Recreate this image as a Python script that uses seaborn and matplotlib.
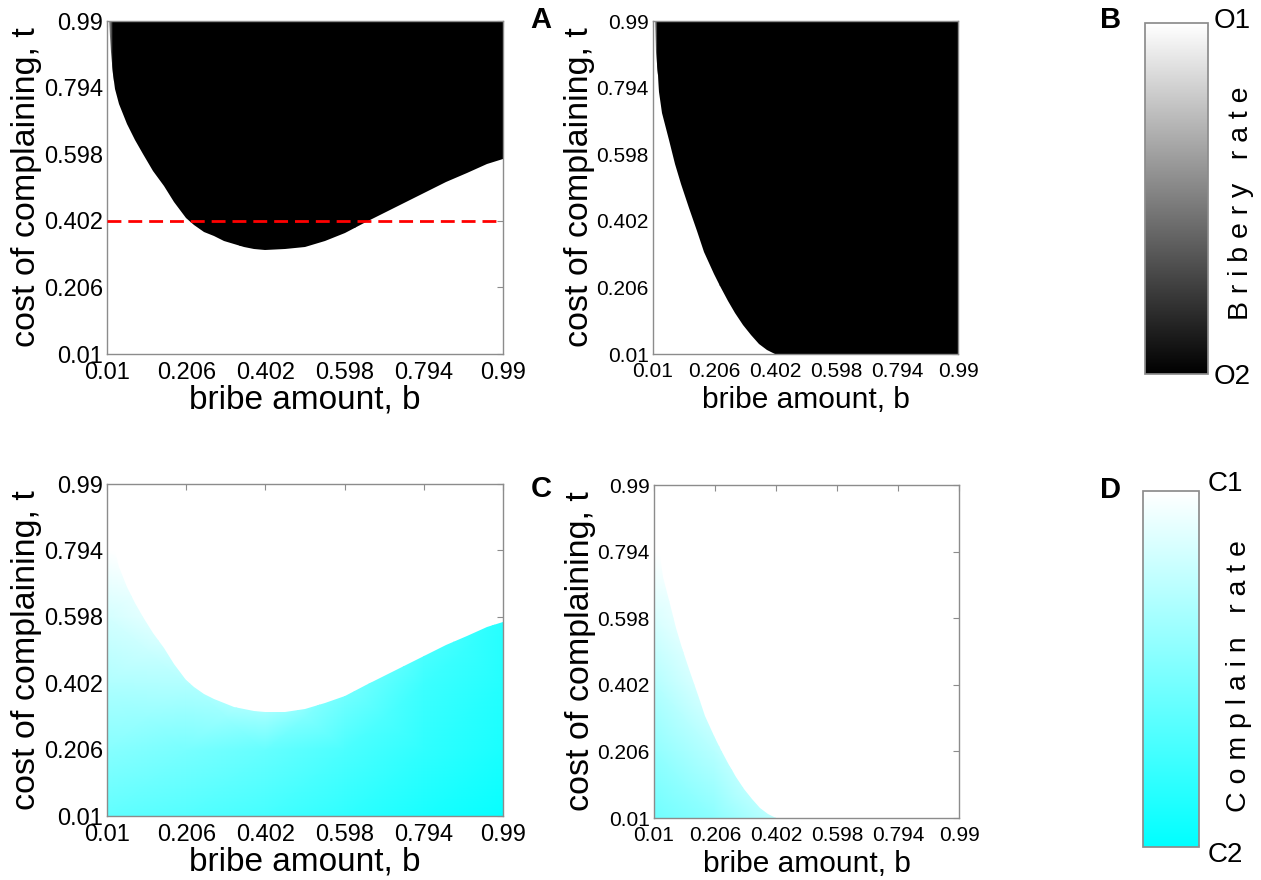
import numpy as np
import matplotlib
matplotlib.use("Agg")
import matplotlib.pyplot as plt
from matplotlib.patches import Polygon
from matplotlib.cm import ScalarMappable
from matplotlib.colors import Normalize
import seaborn as sns

# ---- data -------------------------------------------------------------
# bribe amount b at which the regime boundaries are traced
bribe = [0.01, 0.015, 0.02, 0.025, 0.03, 0.04, 0.06, 0.08, 0.10, 0.125, 0.15, 0.175,
         0.206, 0.225, 0.25, 0.275, 0.30, 0.325, 0.35, 0.375, 0.402, 0.45, 0.50,
         0.55, 0.598, 0.65, 0.70, 0.75, 0.794, 0.85, 0.90, 0.95, 0.99]
# cost of complaining t at the O1/O2 boundary (panels A and C)
boundary_ac = [1.10, 0.99, 0.90, 0.835, 0.79, 0.745, 0.686, 0.64, 0.598, 0.55, 0.505,
               0.458, 0.41, 0.39, 0.37, 0.356, 0.343, 0.333, 0.325, 0.319, 0.316,
               0.318, 0.326, 0.343, 0.365, 0.397, 0.427, 0.457, 0.483, 0.515, 0.542,
               0.568, 0.584]
# cost of complaining t at the O1/O2 boundary (panels B and D)
boundary_bd = [1.10, 1.00, 0.90, 0.83, 0.78, 0.72, 0.64, 0.57, 0.51, 0.44, 0.372,
               0.31, 0.245, 0.21, 0.165, 0.13, 0.095, 0.065, 0.04, 0.022, 0.01,
               0.01, 0.01, 0.01, 0.01, 0.01, 0.01, 0.01, 0.01, 0.01, 0.01, 0.01, 0.01]
threshold_t = 0.402

# bribery rate near the left edge, 1 = O1 (white), 0 = O2 (black)
bribery_grid_b = [0.01, 0.025, 0.99]
bribery_grid_t = [0.01, 0.99]
bribery_rate = [
    [1.0, 0.0, 0.0],
    [1.0, 0.0, 0.0],
]

# complain rate on a coarse (t, b) grid, 0 = C1 (white), 1 = C2 (cyan)
grid_b = [0.01, 0.206, 0.402, 0.598, 0.794, 0.99]
grid_t = [0.01, 0.206, 0.402, 0.598, 0.794, 0.99]
complain_c = [
    [0.62, 0.67, 0.73, 0.81, 0.90, 0.97],
    [0.47, 0.53, 0.60, 0.70, 0.81, 0.90],
    [0.31, 0.30, 0.16, 0.52, 0.76, 0.86],
    [0.17, 0.05, 0.00, 0.30, 0.65, 0.84],
    [0.00, 0.00, 0.00, 0.10, 0.50, 0.80],
    [0.00, 0.00, 0.00, 0.00, 0.40, 0.70],
]
complain_d = [
    [0.56, 0.45, 0.25, 0.00, 0.00, 0.00],
    [0.43, 0.28, 0.00, 0.00, 0.00, 0.00],
    [0.30, 0.10, 0.00, 0.00, 0.00, 0.00],
    [0.15, 0.00, 0.00, 0.00, 0.00, 0.00],
    [0.00, 0.00, 0.00, 0.00, 0.00, 0.00],
    [0.00, 0.00, 0.00, 0.00, 0.00, 0.00],
]

tick_values = [0.01, 0.206, 0.402, 0.598, 0.794, 0.99]
tick_labels = ["0.01", "0.206", "0.402", "0.598", "0.794", "0.99"]

# ---- style ------------------------------------------------------------
sns.set_theme(style="white")
plt.rcParams["font.family"] = ["Liberation Sans", "DejaVu Sans"]
plt.rcParams.update({"text.color": "black", "axes.labelcolor": "black",
                     "xtick.color": "black", "ytick.color": "black"})

gray_cmap = sns.blend_palette(["black", "white"], as_cmap=True)
cyan_cmap = sns.blend_palette(["white", "#00ffff"], as_cmap=True)
EDGE = "#8c8c8c"

W, H = 1261, 880
fig = plt.figure(figsize=(W / 100, H / 100), dpi=100)


def px_axes(x0, y0, x1, y1):
    return fig.add_axes([x0 / W, 1 - y1 / H, (x1 - x0) / W, (y1 - y0) / H])


def style_axes(ax, narrow):
    ax.set_xlim(0.01, 0.99)
    ax.set_ylim(0.01, 0.99)
    tick_size = 15 if narrow else 17
    ax.set_xticks(tick_values)
    ax.set_yticks(tick_values)
    ax.set_xticklabels(tick_labels, fontsize=tick_size)
    ax.set_yticklabels(tick_labels, fontsize=tick_size)
    ax.tick_params(direction="in", length=4, width=0.8, color=EDGE,
                   labelcolor="black", top=True, right=True)
    ax.tick_params(axis="x", pad=6)
    ax.tick_params(axis="y", pad=3)
    for s in ax.spines.values():
        s.set_visible(True)
        s.set_color(EDGE)
        s.set_linewidth(1.0)
    ax.set_xlabel("bribe amount, b", fontsize=21.5 if narrow else 24,
                  labelpad=3 if narrow else 0)
    ax.set_ylabel("cost of complaining, t", fontsize=24.5, labelpad=1)
    ax.set_facecolor("white")


def region_below(boundary):
    verts = [(bribe[0], 0.0)] + list(zip(bribe, boundary)) + [(bribe[-1], 0.0)]
    return Polygon(verts, closed=True, facecolor="none", edgecolor="none")


def region_above(boundary):
    verts = list(zip(bribe, boundary)) + [(bribe[-1], 1.2), (bribe[0], 1.2)]
    return Polygon(verts, closed=True, facecolor="none", edgecolor="none")


ax_a = px_axes(107, 21, 503, 354)
ax_b = px_axes(653, 21, 958, 354)
ax_c = px_axes(107, 484, 503, 816)
ax_d = px_axes(654, 485, 959, 818)

# A, B: bribery outcome, O2 (black) above the boundary
for ax, bound in ((ax_a, boundary_ac), (ax_b, boundary_bd)):
    clip = region_above(bound)
    ax.add_patch(clip)
    mesh = ax.pcolormesh(bribery_grid_b, bribery_grid_t, np.array(bribery_rate),
                         cmap=gray_cmap, vmin=0, vmax=1, shading="gouraud", zorder=1)
    mesh.set_clip_path(clip)
ax_a.axhline(threshold_t, color="#ff0000", linestyle=(0, (5, 2.5)), linewidth=2, zorder=3)

# C, D: complain rate below the boundary
for ax, grid, bound in ((ax_c, complain_c, boundary_ac), (ax_d, complain_d, boundary_bd)):
    clip = region_below(bound)
    ax.add_patch(clip)
    mesh = ax.pcolormesh(grid_b, grid_t, np.array(grid), cmap=cyan_cmap,
                         vmin=0, vmax=1, shading="gouraud", zorder=1)
    mesh.set_clip_path(clip)

style_axes(ax_a, False)
style_axes(ax_b, True)
style_axes(ax_c, False)
style_axes(ax_d, True)

# panel letters
for letter, (x, y) in zip("ABCD", [(541, 20), (1111, 20), (541, 489), (1111, 490)]):
    fig.text(x / W, 1 - y / H, letter, fontsize=21, fontweight="bold",
             ha="center", va="center")


def colour_bar(cax, cmap, invert):
    cb = fig.colorbar(ScalarMappable(norm=Normalize(0, 1), cmap=cmap), cax=cax)
    cb.set_ticks([0.006, 0.994])
    cb.ax.tick_params(direction="in", length=9, width=1.0, color="#9a9a9a",
                      left=True, right=True, labelleft=False, labelright=False)
    if invert:
        cb.ax.invert_yaxis()
    cb.outline.set_edgecolor(EDGE)
    return cb


colour_bar(px_axes(1145, 23, 1208, 374), gray_cmap, False)
colour_bar(px_axes(1143, 491, 1199, 847), cyan_cmap, True)

fig.text(1214 / W, 1 - 21 / H, "O1", fontsize=20, ha="left", va="center")
fig.text(1214 / W, 1 - 377 / H, "O2", fontsize=20, ha="left", va="center")
fig.text(1241 / W, 1 - 203 / H, "B r i b e r y   r a t e", fontsize=20.5,
         rotation=90, ha="center", va="center")
fig.text(1208 / W, 1 - 484 / H, "C1", fontsize=20, ha="left", va="center")
fig.text(1208 / W, 1 - 855 / H, "C2", fontsize=20, ha="left", va="center")
fig.text(1239 / W, 1 - 676 / H, "C o m p l a i n   r a t e", fontsize=20.5,
         rotation=90, ha="center", va="center")

fig.savefig("out.png", dpi=100, facecolor="white")
